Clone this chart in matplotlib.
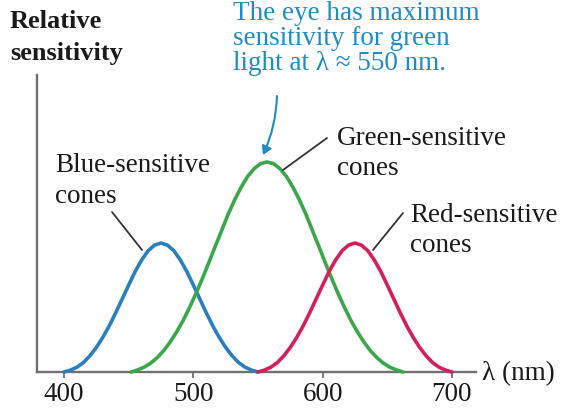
import matplotlib
matplotlib.use("Agg")
import matplotlib.pyplot as plt

# ---- data (relative sensitivity, green peak = 1) ----
blue_nm = list(range(400, 551, 5))
blue_sens = [0, 0.009, 0.023, 0.045, 0.077, 0.117, 0.165, 0.220, 0.282, 0.348,
             0.414, 0.478, 0.533, 0.577, 0.604, 0.614, 0.604, 0.577, 0.533, 0.478,
             0.414, 0.348, 0.282, 0.220, 0.165, 0.117, 0.077, 0.045, 0.023, 0.009, 0]

green_nm = list(range(452, 663, 5))
green_sens = [0, 0.010, 0.023, 0.042, 0.068, 0.101, 0.142, 0.190, 0.244, 0.306,
              0.373, 0.445, 0.521, 0.599, 0.675, 0.752, 0.820, 0.880, 0.931, 0.968,
              0.992, 1.000, 0.992, 0.968, 0.931, 0.880, 0.820, 0.752, 0.675, 0.599,
              0.521, 0.445, 0.373, 0.306, 0.244, 0.190, 0.142, 0.101, 0.068, 0.042,
              0.023, 0.010, 0]

red_nm = list(range(550, 701, 5))
red_sens = [0, 0.009, 0.023, 0.045, 0.077, 0.117, 0.165, 0.220, 0.282, 0.348,
            0.414, 0.478, 0.533, 0.577, 0.604, 0.614, 0.604, 0.577, 0.533, 0.478,
            0.414, 0.348, 0.282, 0.220, 0.165, 0.117, 0.077, 0.045, 0.023, 0.009, 0]

x_ticks = [400, 500, 600, 700]
x_tick_labels = ["400", "500", "600", "700"]

# ---- figure ----
W, H = 562, 413
fig = plt.figure(figsize=(W / 100, H / 100), dpi=100)
fig.patch.set_facecolor("white")

def fx(px):
    return px / W

def fy(py):
    return (H - py) / H

left, right, top, bottom = 37, 476, 75, 372
ax = fig.add_axes([fx(left), fy(bottom), fx(right) - fx(left), fy(top) - fy(bottom)])
ax.set_xlim(379.1, 718.6)
ax.set_ylim(0, 1.414)

FONT = "Liberation Serif"
FS = 19.5
axis_col = "#707070"
txt_col = "#1a1a1a"

for s in ["top", "right"]:
    ax.spines[s].set_visible(False)
for s in ["left", "bottom"]:
    ax.spines[s].set_color(axis_col)
    ax.spines[s].set_linewidth(1.7)

ax.set_yticks([])
ax.set_xticks(x_ticks)
ax.set_xticklabels(x_tick_labels, fontfamily=FONT, fontsize=FS, color=txt_col)
ax.tick_params(axis="x", direction="out", length=4, width=1.3, color=axis_col, pad=3)

c_blue = "#2a7fbd"
c_green = "#3aa84a"
c_red = "#d41f5c"
lw = 2.6
ax.plot(blue_nm, blue_sens, color=c_blue, lw=lw, clip_on=False, solid_capstyle="round", zorder=3)
ax.plot(green_nm, green_sens, color=c_green, lw=lw, clip_on=False, solid_capstyle="round", zorder=3)
ax.plot(red_nm, red_sens, color=c_red, lw=lw, clip_on=False, solid_capstyle="round", zorder=3)

def T(px, py, s, color=txt_col, **kw):
    fig.text(fx(px), fy(py), s, fontfamily=FONT, fontsize=kw.pop("fontsize", FS),
             color=color, ha="left", va="baseline", **kw)

T(10, 28, "Relative", fontweight="bold", fontsize=19)
T(10, 60, "sensitivity", fontweight="bold", fontsize=19)

ann_col = "#1f8cc4"
T(233, 20, "The eye has maximum", color=ann_col)
T(233, 45, "sensitivity for green", color=ann_col)
T(233, 70, "light at λ ≈ 550 nm.", color=ann_col)

T(55, 172, "Blue-sensitive")
T(55, 203, "cones")
T(337, 145, "Green-sensitive")
T(337, 175, "cones")
T(410, 222, "Red-sensitive")
T(410, 252, "cones")

fig.text(fx(482), fy(374), "λ (nm)", fontfamily=FONT, fontsize=FS, color=txt_col,
         ha="left", va="center")

def leader(p0, p1, color="#333333"):
    ax.annotate("", xy=(p1[0], H - p1[1]), xycoords="figure pixels",
                xytext=(p0[0], H - p0[1]), textcoords="figure pixels",
                arrowprops=dict(arrowstyle="-", color=color, lw=1.3, shrinkA=0, shrinkB=0))

leader((112, 212), (142, 250))
leader((327, 138), (283, 170))
leader((403, 213), (373, 250))

ax.annotate("", xy=(263, H - 155), xycoords="figure pixels",
            xytext=(277, H - 96), textcoords="figure pixels",
            arrowprops=dict(arrowstyle="-|>,head_length=0.5,head_width=0.3",
                            color=ann_col, lw=1.5, shrinkA=0, shrinkB=0,
                            connectionstyle="arc3,rad=-0.1"))

fig.savefig("out.png", dpi=100)
